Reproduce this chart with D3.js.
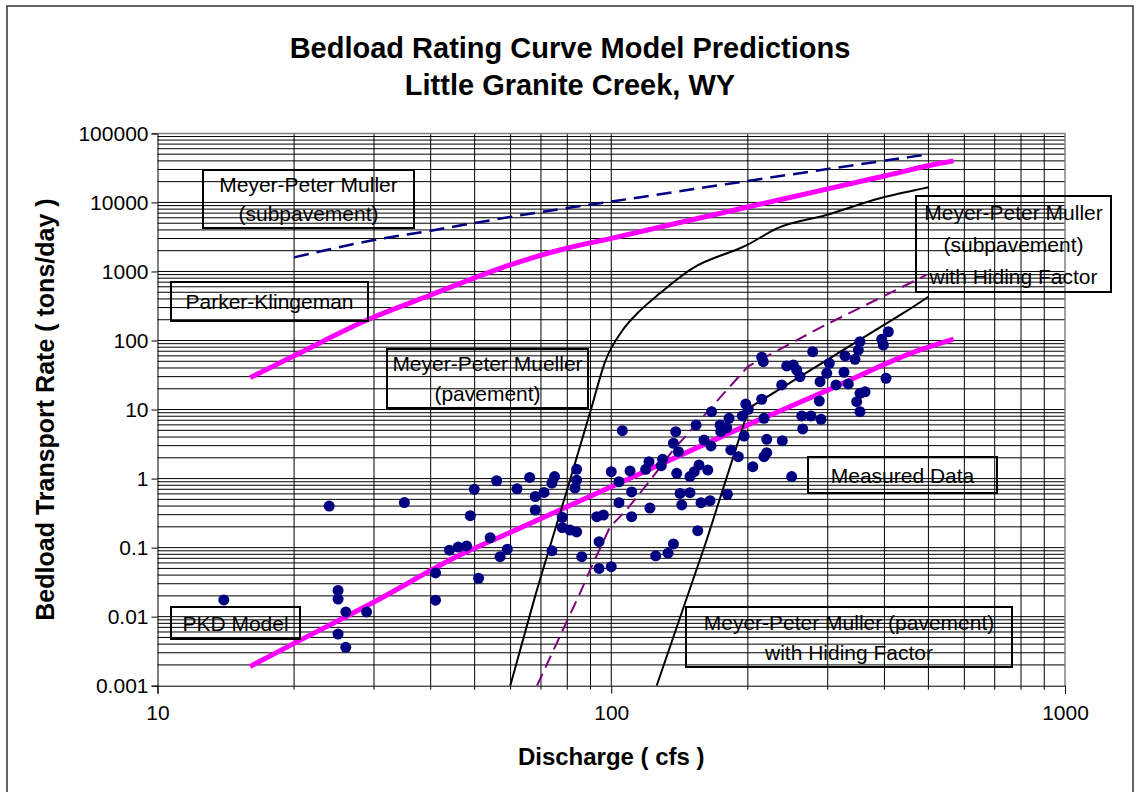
<!DOCTYPE html>
<html>
<head>
<meta charset="utf-8">
<script src="https://cdn.jsdelivr.net/npm/d3@7"></script>
<style>
  html, body { margin: 0; padding: 0; background: #fff; }
  svg { display: block; font-family: "Liberation Sans", Arial, sans-serif; }
</style>
</head>
<body>
<svg id="chart" width="1138" height="792"></svg>
<script>
// values
const xTicks = [10, 100, 1000]
const yTicks = [0.001, 0.01, 0.1, 1, 10, 100, 1000, 10000, 100000]
const yTickLabels = ["0.001", "0.01", "0.1", "1", "10", "100", "1000", "10000", "100000"]

// Meyer-Peter Muller (subpavement)
const mpmSubQ = [20, 30, 40, 54, 77, 100, 200, 300, 500]
const mpmSubT = [1600, 2850, 3900, 5500, 8000, 10300, 20500, 30500, 49800]
// Parker-Klingeman
const pkQ = [16, 20, 29.2, 40, 56.9, 77, 100, 200, 300, 400, 530, 568]
const pkT = [29, 60, 203, 456, 1112, 2047, 3020, 8600, 15700, 24200, 36900, 40000]
// PKD Model
const pkdQ = [16, 20, 30, 46.4, 60, 100, 200, 300, 479, 568]
const pkdT = [0.0019, 0.0041, 0.0163, 0.078, 0.167, 0.76, 6.0, 19.1, 73, 105]
// Meyer-Peter Mueller (pavement)
const mpmPavQ = [59.9, 67.6, 80, 90, 97, 106, 115, 128, 151, 192, 199, 232, 298, 391, 501]
const mpmPavT = [0.001, 0.0175, 0.7, 9.5, 50, 142, 260, 483, 1111, 2170, 2415, 4220, 6580, 11480, 16560]
// Meyer-Peter Muller (subpavement) with Hiding Factor
const mpmSubHfQ = [68.6, 85.3, 90.5, 99.4, 108, 122, 137, 200, 291, 495]
const mpmSubHfT = [0.001, 0.0218, 0.053, 0.2, 0.35, 0.95, 2.6, 42, 158, 890]
// Meyer-Peter Muller (pavement) with Hiding Factor
const mpmPavHfQ = [125.9, 162.3, 197.2, 200.5, 451.7, 500]
const mpmPavHfT = [0.001, 0.129, 7.06, 10.4, 277, 431]

// Measured Data
const measQ = [14, 23.9, 35, 25, 25, 26, 28.9, 25, 26, 41, 41, 49.9, 48.9, 44, 46, 48, 51, 54.1, 55.9, 56.9,
  62, 66.1, 68, 71.1, 68, 74, 75, 83.9, 83.9, 83.2, 78, 78, 81.1, 83.9, 74, 59, 86.1, 94, 100, 94,
  92.9, 96.1, 104, 110.9, 100, 104, 110, 110.9, 121.7, 119.1, 121.1, 128.9, 129.8, 139.4, 141.8, 137.1, 133.4, 125.3, 105.8, 138.7,
  137.1, 140.6, 214.6, 216.3, 243.6, 251.9, 256.3, 260.6, 237.5, 278, 302.4, 327.5, 344.5, 353.3, 350.3, 394.6, 397.8, 407.9, 403.2, 298.5,
  288.5, 325.8, 312.9, 333, 362.5, 353.3, 347.5, 353.3, 287.4, 262.9, 275.5, 290, 264.2, 238.2, 220.1, 217.1, 214.6, 197.9, 200.5, 194.5,
  196.2, 181.8, 173.7, 179.7, 174.3, 166.4, 153.8, 160.1, 165.9, 183.4, 190.6, 220.1, 217.1, 205.1, 249.8, 149.1, 152.4, 156.1, 163.2, 143,
  149.1, 157.7, 165.1, 180.3, 155.1]
const measT = [0.0175, 0.40, 0.45, 0.024, 0.018, 0.0117, 0.0117, 0.0056, 0.0036, 0.043, 0.0173, 0.70, 0.29, 0.092, 0.102, 0.106, 0.036, 0.139, 0.93, 0.074,
  0.71, 1.04, 0.55, 0.63, 0.35, 0.86, 1.07, 1.36, 0.95, 0.73, 0.275, 0.195, 0.18, 0.169, 0.090, 0.095, 0.074, 0.050, 0.053, 0.122,
  0.281, 0.297, 0.448, 0.281, 1.26, 0.90, 1.29, 0.64, 0.375, 1.36, 1.76, 1.54, 1.90, 1.19, 0.61, 0.113, 0.083, 0.076, 4.94, 4.78,
  3.25, 2.45, 57.2, 49.4, 42.8, 44.2, 37.4, 29.9, 22.7, 68.9, 46.8, 59.7, 53.5, 96.1, 72.9, 104, 86.1, 134, 28.4, 33.5,
  25.3, 34.7, 22.7, 23.5, 18.1, 17.2, 13.0, 9.31, 13.3, 8.07, 8.07, 7.23, 5.23, 3.54, 3.71, 7.47, 14.1, 12.0, 10.1, 8.07,
  4.14, 7.47, 5.97, 5.46, 4.78, 9.31, 5.97, 3.62, 2.97, 2.60, 2.08, 2.37, 2.08, 1.49, 1.07, 1.07, 1.26, 1.57, 1.33, 0.415,
  0.625, 0.448, 0.479, 0.593, 0.176]

const titleLines = ["Bedload Rating Curve Model Predictions", "Little Granite Creek, WY"]
const xTitle = "Discharge ( cfs )"
const yTitle = "Bedload Transport Rate ( tons/day )"

// text boxes drawn on the plot: [x0, y0, x1, y1, lines]
const notes = [
  [203, 170, 414, 228, ["Meyer-Peter Muller", "(subpavement)"]],
  [171, 282, 368, 321, ["Parker-Klingeman"]],
  [387, 349, 588, 408, ["Meyer-Peter Mueller", "(pavement)"]],
  [916, 196, 1111, 292, ["Meyer-Peter Muller", "(subpavement)", "with Hiding Factor"]],
  [808, 457, 997, 493, ["Measured Data"]],
  [686, 607, 1012, 667, ["Meyer-Peter Muller (pavement)", "with Hiding Factor"]],
  [171, 607, 300, 639, ["PKD Model"]]
]

const svg = d3.select("#chart")
const L = 157.5, R = 1065, T = 133.4, B = 685.7

const x = d3.scaleLog().domain([10, 1000]).range([L, R])
const y = d3.scaleLog().domain([0.001, 100000]).range([B, T])

// outer frame
svg.append("rect")
    .attr("x", 7).attr("y", 6).attr("width", 1126).attr("height", 800)
    .attr("fill", "none").attr("stroke", "#333").attr("stroke-width", 1.5)

// gridlines, one per 1..9 of each decade
let gx = [], gy = []
for (let d = 10; d < 1000; d *= 10) for (let k = 1; k < 10; k++) gx.push(d * k)
gx.push(1000)
for (let e = -3; e < 5; e++) for (let k = 1; k < 10; k++) gy.push(k * Math.pow(10, e))
gy.push(100000)

let grid = svg.append("g").attr("stroke", "#000").attr("stroke-width", 1)
grid.selectAll(".gx").data(gx.slice(1, -1)).join("line")
    .attr("x1", d => x(d)).attr("x2", d => x(d)).attr("y1", T).attr("y2", B)
grid.selectAll(".gy").data(gy.slice(1, -1)).join("line")
    .attr("x1", L).attr("x2", R).attr("y1", d => y(d)).attr("y2", d => y(d))

// plot border, gray top/right
svg.append("path")
    .attr("d", `M${L},${T}H${R}V${B}`)
    .attr("fill", "none").attr("stroke", "#808080").attr("stroke-width", 1.5)

// axes
let yAxis = d3.axisLeft(y).tickValues(yTicks).tickSize(6).tickFormat((d, i) => yTickLabels[i])
svg.append("g").attr("transform", `translate(${L},0)`).call(yAxis)
    .call(g => g.select(".domain").attr("stroke", "#000"))
    .call(g => g.selectAll("text").attr("font-size", 21).attr("font-family", "Liberation Sans, Arial, sans-serif").attr("fill", "#000").attr("dx", 0))

let xAxis = d3.axisBottom(x).tickValues(xTicks).tickSize(8).tickFormat(d3.format("d"))
svg.append("g").attr("transform", `translate(0,${B})`).call(xAxis)
    .call(g => g.selectAll("text").attr("font-size", 21).attr("font-family", "Liberation Sans, Arial, sans-serif").attr("fill", "#000").attr("dy", "1.1em"))
// minor ticks on x
svg.append("g").selectAll("line").data(gx.filter(d => !xTicks.includes(d))).join("line")
    .attr("x1", d => x(d)).attr("x2", d => x(d)).attr("y1", B).attr("y2", B + 4)
    .attr("stroke", "#000")

svg.append("defs").append("clipPath").attr("id", "plotClip")
    .append("rect").attr("x", L).attr("y", T).attr("width", R - L).attr("height", B - T)

let plot = svg.append("g").attr("clip-path", "url(#plotClip)")

function drawSeries(qs, ts, color, width, dash, curve) {
    let pts = qs.map((q, i) => [q, ts[i]])
    let line = d3.line().x(d => x(d[0])).y(d => y(d[1])).curve(curve)
    plot.append("path")
        .datum(pts)
        .attr("d", line)
        .attr("fill", "none")
        .attr("stroke", color)
        .attr("stroke-width", width)
        .attr("stroke-dasharray", dash)
        .attr("stroke-linecap", "butt")
}

drawSeries(mpmSubQ, mpmSubT, "#000080", 2.5, "15,8", d3.curveMonotoneX)
drawSeries(pkQ, pkT, "#FF00FF", 5, null, d3.curveMonotoneX)
drawSeries(pkdQ, pkdT, "#FF00FF", 5, null, d3.curveMonotoneX)
drawSeries(mpmPavQ, mpmPavT, "#000", 2, null, d3.curveMonotoneX)
drawSeries(mpmSubHfQ, mpmSubHfT, "#800080", 2, "13,7", d3.curveLinear)
drawSeries(mpmPavHfQ, mpmPavHfT, "#000", 2, null, d3.curveLinear)

// measured points
plot.selectAll("circle").data(measQ.map((q, i) => [q, measT[i]])).join("circle")
    .attr("cx", d => x(d[0])).attr("cy", d => y(d[1])).attr("r", 5.5)
    .attr("fill", "#000080")

// note boxes
notes.forEach(([x0, y0, x1, y1, lines]) => {
    svg.append("rect")
        .attr("x", x0).attr("y", y0).attr("width", x1 - x0).attr("height", y1 - y0)
        .attr("fill", "none").attr("stroke", "#000").attr("stroke-width", 2)
    let lh = (y1 - y0) / lines.length
    lines.forEach((t, i) => {
        svg.append("text")
            .attr("x", (x0 + x1) / 2)
            .attr("y", y0 + lh * (i + 0.5))
            .attr("dy", "0.36em")
            .attr("text-anchor", "middle")
            .attr("font-size", 21)
            .text(t)
    })
})

// titles
svg.selectAll(".title").data(titleLines).join("text")
    .attr("x", 570).attr("y", (d, i) => 58 + i * 37)
    .attr("text-anchor", "middle").attr("font-weight", "bold").attr("font-size", 29)
    .text(d => d)

svg.append("text")
    .attr("x", (L + R) / 2).attr("y", 765)
    .attr("text-anchor", "middle").attr("font-weight", "bold").attr("font-size", 24)
    .text(xTitle)

svg.append("text")
    .attr("transform", `translate(54,${(T + B) / 2}) rotate(-90)`)
    .attr("text-anchor", "middle").attr("font-weight", "bold").attr("font-size", 25)
    .text(yTitle)
</script>
</body>
</html>
